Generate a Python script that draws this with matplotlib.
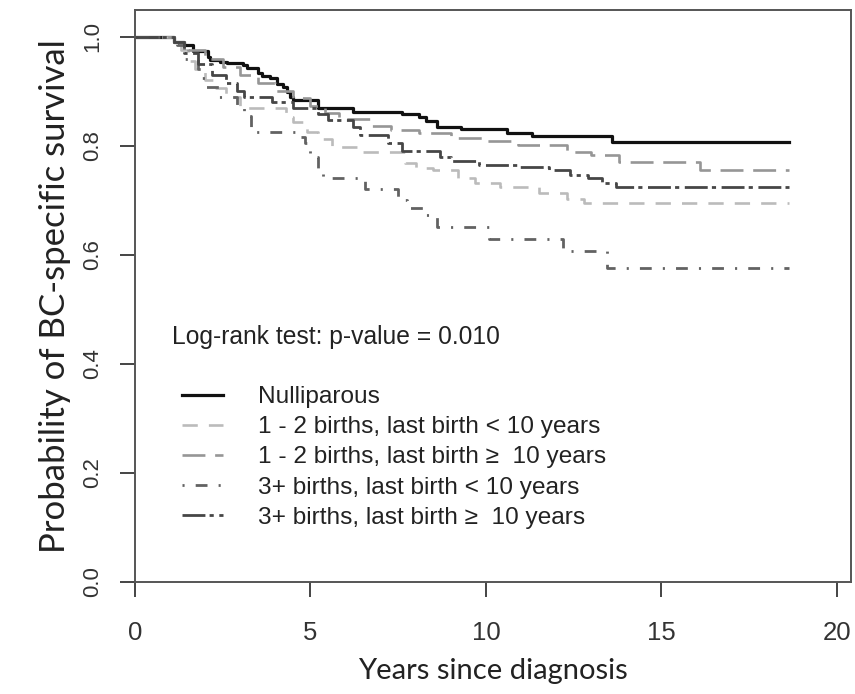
import numpy as np
import matplotlib
matplotlib.use('Agg')
import matplotlib.pyplot as plt

plt.rcParams['lines.scale_dashes'] = False

# Kaplan-Meier step data (time of drop, survival after drop)
null_t = [0, 1.1, 1.4, 1.66, 2.08, 2.14, 2.42, 2.61, 3.08, 3.18, 3.51, 3.61, 3.85, 4.04, 4.23, 4.32,
          4.42, 4.51, 5.22, 6.2, 7.6, 8.1, 8.3, 8.6, 9.3, 10.6, 11.3, 13.6, 18.63]
null_s = [1.0, 0.99, 0.985, 0.974, 0.963, 0.957, 0.954, 0.951, 0.948, 0.942, 0.933, 0.927, 0.924, 0.914,
          0.908, 0.899, 0.890, 0.884, 0.869, 0.862, 0.858, 0.852, 0.846, 0.835, 0.830, 0.823, 0.817,
          0.807, 0.807]

lt_t = [0, 1.1, 1.3, 1.5, 1.7, 2.0, 2.3, 2.6, 3.0, 4.3, 4.5, 4.9, 5.2, 5.6, 6.5, 7.7, 8.0, 8.5, 9.2,
        9.7, 10.4, 11.5, 12.3, 12.8, 18.63]
lt_s = [1.0, 0.99, 0.975, 0.955, 0.94, 0.92, 0.905, 0.89, 0.87, 0.852, 0.843, 0.825, 0.812, 0.797,
        0.788, 0.768, 0.76, 0.755, 0.74, 0.731, 0.725, 0.714, 0.703, 0.695, 0.695]

ge_t = [0, 1.1, 1.5, 2.0, 2.5, 3.0, 3.5, 4.0, 4.5, 5.0, 5.4, 5.8, 6.7, 7.3, 8.1, 9.0, 9.9, 10.9,
        12.3, 13.0, 13.8, 16.1, 18.63]
ge_s = [1.0, 0.99, 0.975, 0.96, 0.945, 0.93, 0.915, 0.90, 0.888, 0.872, 0.86, 0.849, 0.837, 0.828,
        0.823, 0.814, 0.809, 0.801, 0.789, 0.783, 0.77, 0.755, 0.755]

lt3_t = [0, 1.2, 1.4, 1.8, 1.9, 2.0, 2.4, 2.9, 3.1, 3.3, 4.6, 4.85, 5.0, 5.2, 5.35, 6.55, 7.5, 7.75,
         8.2, 8.6, 10.1, 12.2, 13.45, 18.63]
lt3_s = [1.0, 0.985, 0.96, 0.94, 0.925, 0.908, 0.89, 0.875, 0.855, 0.826, 0.816, 0.805, 0.78, 0.76,
         0.74, 0.72, 0.70, 0.686, 0.673, 0.65, 0.628, 0.607, 0.575, 0.575]

ge3_t = [0, 1.1, 1.4, 1.8, 2.2, 2.6, 2.9, 3.1, 3.9, 4.5, 5.2, 5.5, 6.2, 6.4, 7.2, 7.6, 8.7, 9.0, 9.8,
         10.9, 11.8, 12.4, 12.9, 13.3, 13.7, 18.63]
ge3_s = [1.0, 0.99, 0.97, 0.95, 0.93, 0.915, 0.90, 0.89, 0.88, 0.87, 0.858, 0.848, 0.835, 0.82, 0.805,
         0.79, 0.78, 0.772, 0.765, 0.761, 0.755, 0.746, 0.740, 0.731, 0.724, 0.724]

labels = ['Nulliparous',
          '1 - 2 births, last birth < 10 years',
          '1 - 2 births, last birth \u2265  10 years',
          '3+ births, last birth < 10 years',
          '3+ births, last birth \u2265  10 years']

x_ticks = [0, 5, 10, 15, 20]
y_ticks = [0.0, 0.2, 0.4, 0.6, 0.8, 1.0]

tick_font = ['Liberation Sans', 'DejaVu Sans']
txt_font = ['Liberation Sans', 'DejaVu Sans']
lab_font = ['Lato', 'DejaVu Sans']

fig = plt.figure(figsize=(8.55, 6.94), dpi=100)
ax = fig.add_axes([135 / 855, 1 - 581.7 / 694, (851 - 135) / 855, (581.7 - 10) / 694])

series = [
    (null_t, null_s, '#111111', 2.3, '-'),
    (lt_t, lt_s, '#bbbbbb', 1.9, (0, (11, 8))),
    (ge_t, ge_s, '#969696', 1.9, (0, (16.5, 7))),
    (lt3_t, lt3_s, '#626262', 2.0, (0, (1.5, 8, 8.5, 8))),
    (ge3_t, ge3_s, '#464646', 2.0, (0, (16.5, 3, 3, 4))),
]
handles = []
for (t, s, c, lw, ls), lab in zip(series, labels):
    h, = ax.step(t, s, where='post', color=c, lw=lw, linestyle=ls, label=lab)
    handles.append(h)

ax.set_xlim(0, 20.4)
ax.set_ylim(0, 1.049)
ax.set_xticks(x_ticks)
ax.set_yticks(y_ticks)
ax.set_xticklabels([str(v) for v in x_ticks], family=tick_font, fontsize=18.5, color='#333333')
ax.set_yticklabels(['%.1f' % v for v in y_ticks], family=tick_font, fontsize=16, color='#333333',
                   rotation=90, va='center')
ax.tick_params(axis='x', length=11, width=1.4, color='#444444', pad=17)
ax.tick_params(axis='y', length=11, width=1.4, color='#444444', pad=12)
for sp in ax.spines.values():
    sp.set_color('#555555')
    sp.set_linewidth(1.4)

ax.set_xlabel('Years since diagnosis', family=lab_font, fontsize=21, color='#222222', labelpad=10)
ax.set_ylabel('Probability of BC-specific survival', family=lab_font, fontsize=25, color='#222222',
              labelpad=8)

fig.text(172 / 855, 1 - 337 / 694, 'Log-rank test: p-value = 0.010', family=txt_font, fontsize=17.7,
         color='#222222', va='center', ha='left')

leg = ax.legend(handles=handles, loc='upper left', bbox_to_anchor=(182 / 855, 1 - 386 / 694),
                bbox_transform=fig.transFigure, frameon=False, borderpad=0, borderaxespad=0,
                handlelength=1.68, handletextpad=1.43, labelspacing=0.33,
                prop={'family': txt_font, 'size': 17.6})
for t in leg.get_texts():
    t.set_color('#222222')

fig.savefig('out.png', dpi=100)
